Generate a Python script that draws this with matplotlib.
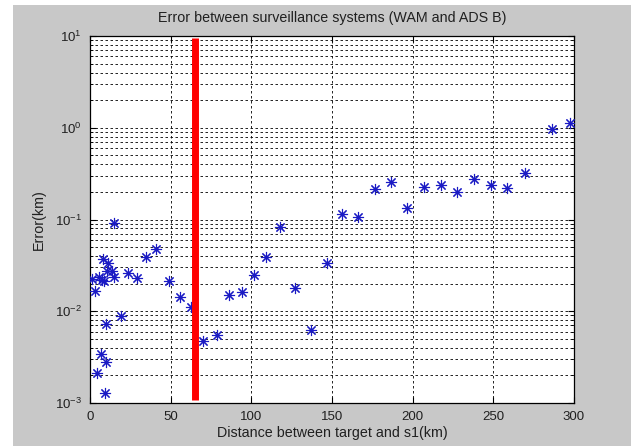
import matplotlib
matplotlib.use('Agg')
import matplotlib.pyplot as plt
from matplotlib.patches import Rectangle
from matplotlib.ticker import LogLocator, MultipleLocator

plt.rcParams['font.family'] = ['Liberation Sans', 'DejaVu Sans']
plt.rcParams['mathtext.fontset'] = 'custom'
plt.rcParams['mathtext.rm'] = 'Liberation Sans'
plt.rcParams['mathtext.it'] = 'Liberation Sans'

# distance to s1 (km) and error between WAM and ADS-B (km)
distance = [1.2, 3.2, 4.2, 5.7, 7.2, 7.1, 8.1, 8.7, 9.3, 9.8, 9.9, 10.3, 11.2,
            13.5, 14.9, 15.1, 19.2, 23.4, 28.9, 34.5, 40.9, 48.7, 55.8, 62.4,
            70.3, 78.5, 86.4, 94.2, 101.9, 109.3, 117.8, 127.1, 137.2, 146.7,
            156.4, 166.4, 176.9, 186.8, 196.5, 207.1, 217.6, 227.7, 237.9,
            248.4, 258.7, 269.5, 286.2, 297.8]
error = [0.0225, 0.0168, 0.00212, 0.0234, 0.022, 0.00345, 0.0368, 0.0215,
         0.00129, 0.0072, 0.00278, 0.0277, 0.0338, 0.0277, 0.0234, 0.092,
         0.0088, 0.0259, 0.0228, 0.0387, 0.048, 0.0212, 0.0144, 0.0112,
         0.00478, 0.0055, 0.0152, 0.0161, 0.0248, 0.039, 0.0836, 0.0178,
         0.00625, 0.0338, 0.116, 0.106, 0.213, 0.258, 0.132, 0.224, 0.238,
         0.201, 0.274, 0.238, 0.219, 0.319, 0.962, 1.135]

# threshold marker
limit_x = [65, 65]
limit_y = [0.00108, 9.5]

fig = plt.figure(figsize=(6.31, 4.46), dpi=100)
fig.patch.set_facecolor('white')
fig.patches.append(Rectangle((13 / 631, 0), 1, 1 - 5 / 446,
                             transform=fig.transFigure, facecolor='#c8c8c8',
                             edgecolor='none', zorder=-10))

ax = fig.add_axes([90 / 631, 1 - 403 / 446, 484 / 631, 367 / 446])
ax.set_facecolor('white')

ax.plot(distance, error, linestyle='none', marker=(8, 2, 0), markersize=8,
        color='#1a1ac4', markeredgewidth=0.8, zorder=3)
ax.plot(limit_x, limit_y, color='#ff0000', linewidth=5, solid_capstyle='butt',
        zorder=4)

ax.set_yscale('log')
ax.set_xlim(0, 300)
ax.set_ylim(1e-3, 1e1)
ax.xaxis.set_major_locator(MultipleLocator(50))
ax.yaxis.set_major_locator(LogLocator(base=10, numticks=10))
ax.yaxis.set_minor_locator(LogLocator(base=10, subs=range(2, 10), numticks=10))

ax.grid(True, which='major', axis='x', linestyle=(0, (3, 3)), color='black',
        linewidth=0.6)
ax.grid(True, which='both', axis='y', linestyle=(0, (3, 3)), color='black',
        linewidth=0.6)
ax.set_axisbelow(True)

ax.tick_params(which='both', direction='in', top=True, right=True,
               labelsize=9.5, colors='black', labelcolor='#202020')
ax.tick_params(which='major', length=4, pad=6)
ax.tick_params(which='minor', length=2)
ax.yaxis.set_tick_params(which='minor', labelleft=False)
for s in ax.spines.values():
    s.set_linewidth(0.9)

ax.set_title('Error between surveillance systems (WAM and ADS B)',
             fontsize=10.3, color='#202020', pad=10)
ax.set_xlabel('Distance between target and s1(km)', fontsize=10.3,
              color='#202020', labelpad=2)
ax.set_ylabel('Error(km)', fontsize=10.3, color='#202020', labelpad=6)

fig.savefig('out.png', dpi=100, facecolor=fig.get_facecolor())
